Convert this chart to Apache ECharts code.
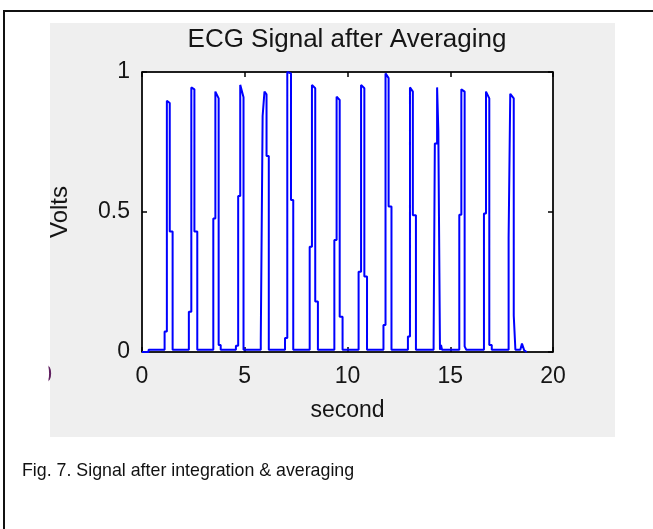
<!DOCTYPE html>
<html>
<head>
<meta charset="utf-8">
<script src="https://cdn.jsdelivr.net/npm/echarts@6/dist/echarts.min.js"></script>
<style>
  html, body { margin: 0; padding: 0; background: #fff; }
  #chart { width: 653px; height: 529px; }
</style>
</head>
<body>
<div id="chart"></div>
<script>
// polyline vertices, one pulse per line
const seconds = [
  0, 0.32, 0.32,
  1.10, 1.10, 1.21, 1.21, 1.35, 1.35, 1.49, 1.49,
  2.28, 2.28, 2.40, 2.40, 2.55, 2.55, 2.69, 2.69,
  3.47, 3.47, 3.57, 3.57, 3.73, 3.73, 3.83, 3.83,
  4.57, 4.57, 4.68, 4.68, 4.78, 4.78, 4.94, 4.94,
  5.78, 5.78, 5.87, 5.87, 5.96, 5.96, 6.06, 6.06, 6.17, 6.17,
  6.96, 6.96, 7.07, 7.07, 7.25, 7.25, 7.36, 7.36,
  8.16, 8.16, 8.27, 8.27, 8.43, 8.43, 8.56, 8.56,
  9.36, 9.36, 9.47, 9.47, 9.62, 9.62, 9.76, 9.76,
  10.54, 10.54, 10.66, 10.66, 10.82, 10.82, 10.95, 10.95,
  11.75, 11.75, 11.85, 11.85, 12.00, 12.00, 12.14, 12.14,
  12.94, 12.94, 13.04, 13.04, 13.18, 13.18, 13.33, 13.33,
  14.19, 14.19, 14.25, 14.25, 14.36, 14.36, 14.42, 14.42, 14.50, 14.50, 14.55, 14.55, 14.60, 14.60,
  15.44, 15.44, 15.54, 15.54, 15.70, 15.70, 15.78, 15.78,
  16.64, 16.64, 16.74, 16.74, 16.90, 16.90, 17.02, 17.02,
  17.84, 17.84, 17.92, 17.92, 18.09, 18.09, 18.17, 18.17, 18.41, 18.49, 18.60, 18.72
];
const volts = [
  0, 0, 0.008,
  0.008, 0.073, 0.073, 0.897, 0.889, 0.43, 0.43, 0.008,
  0.008, 0.144, 0.144, 0.945, 0.938, 0.43, 0.43, 0.008,
  0.008, 0.477, 0.477, 0.93, 0.906, 0.025, 0.025, 0.008,
  0.008, 0.022, 0.022, 0.557, 0.557, 0.954, 0.91, 0.008,
  0.008, 0.043, 0.043, 0.843, 0.843, 0.93, 0.92, 0.70, 0.70, 0.008,
  0.008, 0.05, 0.05, 1.0, 0.995, 0.543, 0.543, 0.008,
  0.008, 0.376, 0.376, 0.954, 0.942, 0.18, 0.18, 0.008,
  0.008, 0.40, 0.40, 0.912, 0.90, 0.126, 0.126, 0.008,
  0.008, 0.287, 0.287, 0.954, 0.942, 0.27, 0.27, 0.008,
  0.008, 0.096, 0.096, 0.995, 0.978, 0.52, 0.52, 0.008,
  0.008, 0.055, 0.055, 0.945, 0.93, 0.488, 0.488, 0.008,
  0.008, 0.033, 0.033, 0.745, 0.745, 0.945, 0.94, 0.79, 0.79, 0.008, 0.008, 0.025, 0.025, 0.008,
  0.008, 0.49, 0.49, 0.938, 0.93, 0.02, 0.02, 0.008,
  0.008, 0.495, 0.495, 0.93, 0.906, 0.025, 0.025, 0.008,
  0.008, 0.406, 0.406, 0.922, 0.906, 0.13, 0.13, 0.008, 0.008, 0.03, 0.006, 0
];
const xTicks = [0, 5, 10, 15, 20];
const yTicks = [0, 0.5, 1];

const titleText = "ECG Signal after Averaging";
const xName = "second";
const yName = "Volts";
const caption = "Fig. 7. Signal after integration & averaging";

const sans = '"Liberation Sans", Arial, sans-serif';
const ink = "#151515";

const chart = echarts.init(document.getElementById("chart"), null, { renderer: "canvas" });

const tickOpts = { show: true, inside: true, length: 5, lineStyle: { color: "#000", width: 1.5 } };
const frameLine = { show: true, onZero: false, lineStyle: { color: "#000", width: 1.5 } };

chart.setOption({
  animation: false,
  backgroundColor: "#fff",
  grid: {
    left: 142, top: 72, width: 411, height: 280,
    show: true, backgroundColor: "#fff", borderColor: "#000", borderWidth: 1
  },
  xAxis: [
    {
      type: "value", min: xTicks[0], max: xTicks[xTicks.length - 1], interval: 5,
      axisLine: frameLine,
      axisTick: tickOpts,
      splitLine: { show: false },
      axisLabel: { color: ink, fontFamily: sans, fontSize: 23, margin: 13 },
      name: xName, nameLocation: "middle", nameGap: 47,
      nameTextStyle: { color: ink, fontFamily: sans, fontSize: 23 }
    },
    {
      type: "value", position: "top", min: 0, max: 20, interval: 5,
      axisLine: frameLine,
      axisTick: tickOpts, axisLabel: { show: false }, splitLine: { show: false }
    }
  ],
  yAxis: [
    {
      type: "value", min: yTicks[0], max: yTicks[yTicks.length - 1], interval: 0.5,
      axisLine: frameLine,
      axisTick: tickOpts,
      splitLine: { show: false },
      axisLabel: { color: ink, fontFamily: sans, fontSize: 23, margin: 12 },
      name: yName, nameLocation: "middle", nameGap: 70, nameRotate: 90,
      nameTextStyle: { color: ink, fontFamily: sans, fontSize: 24 }
    },
    {
      type: "value", position: "right", min: 0, max: 1, interval: 0.5,
      axisLine: frameLine,
      axisTick: tickOpts, axisLabel: { show: false }, splitLine: { show: false }
    }
  ],
  series: [
    {
      type: "line",
      xAxisIndex: 0, yAxisIndex: 0,
      data: seconds.map((t, i) => [t, volts[i]]),
      showSymbol: false,
      lineStyle: { color: "#0000ff", width: 2 },
      z: 5
    }
  ],
  graphic: [
    { type: "rect", z: -10, shape: { x: 50, y: 23, width: 565, height: 414 }, style: { fill: "#efefef" } },
    {
      type: "text", z: 10, x: 347, y: 40,
      style: { text: titleText, font: "26px " + sans, fill: ink, textAlign: "center", textVerticalAlign: "middle" }
    },
    {
      type: "text", z: -9, x: 52, y: 376,
      style: { text: "0", font: "23px " + sans, fill: "#602060", textAlign: "right", textVerticalAlign: "middle" }
    },
    { type: "rect", z: 10, shape: { x: 5, y: 360, width: 43.5, height: 35 }, style: { fill: "#fff" } },
    { type: "line", z: 11, shape: { x1: 4, y1: 11, x2: 653, y2: 11 }, style: { stroke: "#111", lineWidth: 2 } },
    { type: "line", z: 11, shape: { x1: 4, y1: 10, x2: 4, y2: 529 }, style: { stroke: "#111", lineWidth: 2 } },
    {
      type: "text", z: 10, x: 22, y: 471,
      style: { text: caption, font: "17.8px " + sans, fill: "#111", textVerticalAlign: "middle" }
    }
  ]
});
</script>
</body>
</html>
